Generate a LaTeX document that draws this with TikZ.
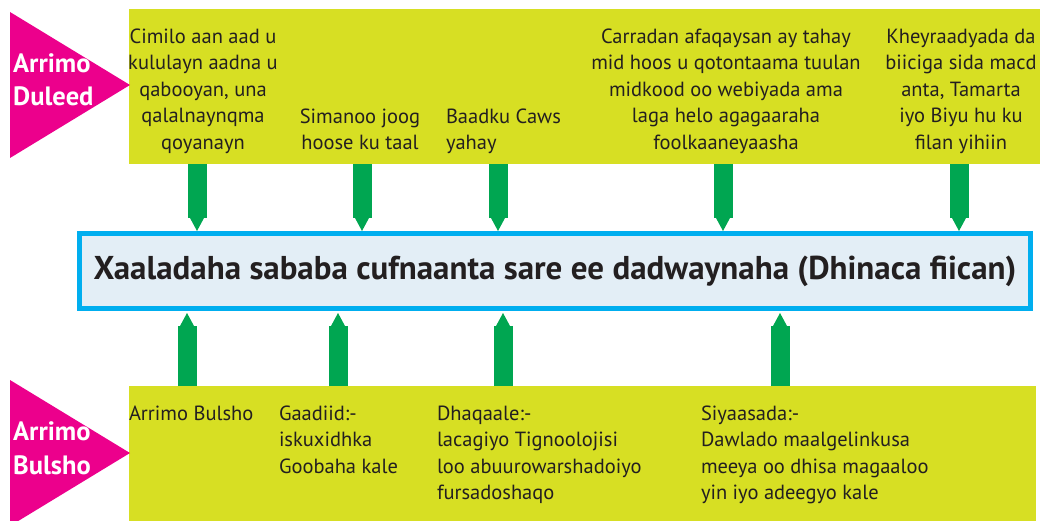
\documentclass[tikz,border=0pt]{standalone}
\usepackage{fontspec}
\setmainfont{PT Sans}
\usetikzlibrary{calc}
\definecolor{ylw}{HTML}{D7DF23}
\definecolor{mag}{HTML}{EC008C}
\definecolor{grn}{HTML}{00A651}
\definecolor{cyn}{HTML}{00AEEF}
\definecolor{lbl}{HTML}{E3EEF6}
\definecolor{txt}{HTML}{231F20}
\tikzset{
  ybox/.style={fill=ylw, draw=none, inner sep=0pt, outer sep=0pt, anchor=north west},
  mainbox/.style={draw=cyn, fill=lbl, line width=5pt, minimum width=951pt, minimum height=75pt, inner sep=0pt,
    text=txt, font={\fontsize{33}{38}\selectfont\bfseries}},
  body/.style={inner sep=0pt, outer sep=0pt, text=txt, font={\fontsize{20.5}{26.5}\selectfont}},
  tri/.style={fill=mag},
  trilabel/.style={inner sep=0pt, text=white, align=left, anchor=north west, font={\fontsize{26.5}{33.5}\selectfont\bfseries}},
  shaft/.style={draw=grn, line width=19pt},
  tipg/.style={fill=grn},
}
\newcommand\arrdown[1]{%
  \draw[shaft] (top.south -| #1) -- ($(main.north -| #1)+(0,-13)$);
  \fill[tipg] ($(main.north -| #1)+(-7,-13)$) -- ($(main.north -| #1)+(7,-13)$) -- (main.north -| #1) -- cycle;}
\newcommand\arrup[1]{%
  \draw[shaft] (bot.north -| #1) -- ($(main.south -| #1)+(0,15)$);
  \fill[tipg] ($(main.south -| #1)+(-7,15)$) -- ($(main.south -| #1)+(7,15)$) -- ($(main.south -| #1)+(0,2)$) -- cycle;}
\begin{document}
\begin{tikzpicture}[x=1pt,y=-1pt]
\useasboundingbox (0,0) rectangle (1040,521);
% boxes
\node[ybox, minimum width=911pt, minimum height=155pt] (top) at (129,9) {};
\node[ybox, minimum width=907pt, minimum height=140pt] (bot) at (129,386) {};
\node[mainbox] (main) at (555,271) {Xaaladaha sababa cufnaanta sare ee dadwaynaha (Dhinaca fiican)};
% triangles
\fill[tri] (10,12) -- (10,158) -- (130,85) -- cycle;
\fill[tri] (10,380) -- (10,526) -- (130,453) -- cycle;
\node[trilabel] (tl1) at (13,48.5) {\strut Arrimo\\Duleed};
\node[trilabel] (tl2) at (13,417) {\strut Arrimo\\Bulsho};
% top texts
\node[body, align=center, anchor=north] (t1) at (203,24.5) {\strut Cimilo aan aad u\\kululayn aadna u\\qabooyan, una\\qalalnaynqma\\qoyanayn};
\node[body, align=center, anchor=north] (t2) at (360,104.5) {\strut Simanoo joog\\hoose ku taal};
\node[body, align=left, anchor=north west] (t3) at (446,104.5) {\strut Baadku Caws\\ yahay};
\node[body, align=center, anchor=north] (t4) at (726,24.5) {\strut Carradan afaqaysan ay tahay\\mid hoos u qotontaama tuulan\\midkood oo webiyada ama\\laga helo agagaaraha\\foolkaaneyaasha};
\node[body, align=center, anchor=north] (t5) at (961,24.5) {\strut Kheyraadyada da\\biiciga sida macd\\anta, Tamarta\\iyo Biyu hu ku\\filan yihiin};
% bottom texts
\node[body, align=left, anchor=north west] (b1) at (129,401.5) {\strut Arrimo Bulsho};
\node[body, align=left, anchor=north west] (b2) at (279,401.5) {\strut Gaadiid:-\\iskuxidhka\\Goobaha kale};
\node[body, align=left, anchor=north west] (b3) at (437,401.5) {\strut Dhaqaale:-\\lacagiyo Tignoolojisi\\loo abuurowarshadoiyo\\fursadoshaqo};
\node[body, align=left, anchor=north west] (b4) at (701,401.5) {\strut Siyaasada:-\\Dawlado maalgelinkusa\\meeya oo dhisa magaaloo\\yin iyo adeegyo kale};
% arrow positions
\coordinate (d1) at (197,0);
\coordinate (d2) at (362,0);
\coordinate (d3) at (498,0);
\coordinate (d4) at (723,0);
\coordinate (d5) at (959,0);
\coordinate (u1) at (187,0);
\coordinate (u2) at (338,0);
\coordinate (u3) at (503,0);
\coordinate (u4) at (780,0);
\arrdown{d1}\arrdown{d2}\arrdown{d3}\arrdown{d4}\arrdown{d5}
\arrup{u1}\arrup{u2}\arrup{u3}\arrup{u4}
\end{tikzpicture}
\end{document}
